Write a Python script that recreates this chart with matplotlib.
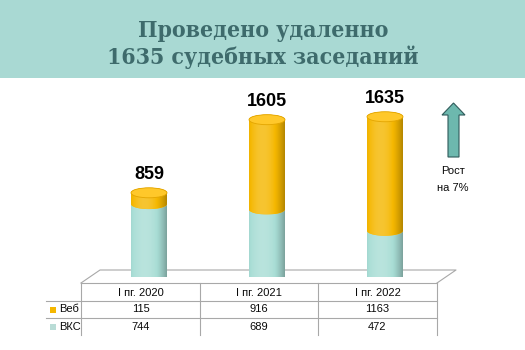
import numpy as np
import matplotlib

matplotlib.use("Agg")
import matplotlib.pyplot as plt
from matplotlib.colors import to_rgb
from matplotlib.patches import Polygon, Ellipse, Rectangle, FancyArrow

# ---- data ----
periods = ["I пг. 2020", "I пг. 2021", "I пг. 2022"]
series_names = ["Веб", "ВКС"]
web = [115, 916, 1163]
vks = [744, 689, 472]
title_lines = ["Проведено удаленно", "1635 судебных заседаний"]
growth_text = ["Рост", "на 7%"]

# ---- style ----
BAND = "#a9d9d3"
TITLE_C = "#3e6b6c"
TEAL = "#a8ddd5"
YELLOW = "#f5b700"
TOP_YELLOW = "#ffc82a"
LINE_C = "#a8a8a8"
ARROW_C = "#6db8ae"
TXT_C = "#0a0a0a"

W, H = 525, 350
BAR_W = 0.305
ELL_H = 51  # half height of the cylinder ellipse, data units


def shade(base, n=64):
    rgb = np.array(to_rgb(base))
    t = np.linspace(0, 1, n)
    f = 1.12 - 1.0 * (t - 0.38) ** 2
    out = np.empty((1, n, 3))
    for i, fi in enumerate(f):
        if fi >= 1:
            out[0, i] = rgb + (1 - rgb) * (fi - 1) * 1.6
        else:
            out[0, i] = rgb * fi
    return np.clip(out, 0, 1)


def segment(ax, x, y0, y1, color, top=False, z=2):
    th = np.linspace(np.pi, 2 * np.pi, 40)
    xs = list(x + BAR_W / 2 * np.cos(th))
    ys = list(y0 + ELL_H * np.sin(th))
    th2 = np.linspace(0, np.pi, 40) if top else np.linspace(2 * np.pi, np.pi, 40)
    xs += list(x + BAR_W / 2 * np.cos(th2))
    ys += list(y1 + ELL_H * np.sin(th2))
    poly = Polygon(np.column_stack([xs, ys]), closed=True, fc=color, ec="none", zorder=z)
    ax.add_patch(poly)
    im = ax.imshow(shade(color), extent=(x - BAR_W / 2, x + BAR_W / 2, y0 - ELL_H, y1 + ELL_H),
                   aspect="auto", zorder=z + 0.1, interpolation="bilinear")
    im.set_clip_path(poly)


fig = plt.figure(figsize=(W / 100, H / 100), dpi=100)

# decoration layer in pixel coordinates
deco = fig.add_axes([0, 0, 1, 1], zorder=0)
deco.set_xlim(0, W)
deco.set_ylim(H, 0)
deco.axis("off")

deco.add_patch(Rectangle((0, 0), W, 78, fc=BAND, ec="none"))
for yb, line in zip([37, 64], title_lines):
    deco.text(263, yb, line, ha="center", va="baseline", color=TITLE_C,
              family="DejaVu Serif", fontweight="bold", fontstretch="condensed", fontsize=16.5)

# floor
lk = dict(color=LINE_C, lw=0.8)
deco.plot([81, 100, 456, 437], [283, 270, 270, 283], **lk)

# table
col_x = [81, 200, 318, 437]
deco.plot([81, 437], [283, 283], **lk)
for yy in [301, 318]:
    deco.plot([46, 437], [yy, yy], **lk)
for xx in col_x:
    deco.plot([xx, xx], [283, 335], **lk)
centers = [(col_x[i] + col_x[i + 1]) / 2 for i in range(3)]
tk = dict(ha="center", va="center", fontsize=8, family="Liberation Sans", color=TXT_C)
for cx, p, a, b in zip(centers, periods, web, vks):
    deco.text(cx, 292.5, p, **tk)
    deco.text(cx, 309.5, str(a), **tk)
    deco.text(cx, 326.5, str(b), **tk)
for yy, name, c in zip([309.5, 326.5], series_names, [YELLOW, "#b9dcd6"]):
    deco.add_patch(Rectangle((50, yy - 3), 6, 6, fc=c, ec="none"))
    deco.text(59, yy, name, ha="left", va="center", fontsize=8,
              family="Liberation Sans", color=TXT_C)

# growth arrow
deco.add_patch(FancyArrow(453.5, 157, 0, -54, width=11, head_width=23, head_length=12,
                          length_includes_head=True, fc=ARROW_C, ec="#2f5a5a", lw=0.8))
for yy, s in zip([171, 188], growth_text):
    deco.text(453, yy, s, ha="center", va="center", fontsize=8,
              family="Liberation Sans", color=TXT_C)

# bars
ax = fig.add_axes([90 / W, (H - 277) / H, 354 / W, (277 - 80) / H], zorder=1)
ax.patch.set_alpha(0)
xs = np.arange(len(periods))
for x, a, b in zip(xs, web, vks):
    total = a + b
    segment(ax, x, 0, b, TEAL, z=2)
    segment(ax, x, b, total, YELLOW, top=True, z=3)
    ax.add_patch(Ellipse((x, total), BAR_W, 2 * ELL_H, fc=TOP_YELLOW, ec="#e3a500", lw=0.6, zorder=4))
    ax.annotate(str(total), (x, total), xytext=(0, 13), textcoords="offset points",
                ha="center", va="center", fontsize=13, fontweight="bold",
                family="Liberation Sans", color="black")
ax.set_xlim(-0.5, 2.5)
ax.set_ylim(0, 2010)
ax.axis("off")

fig.savefig("out.png", dpi=100)
